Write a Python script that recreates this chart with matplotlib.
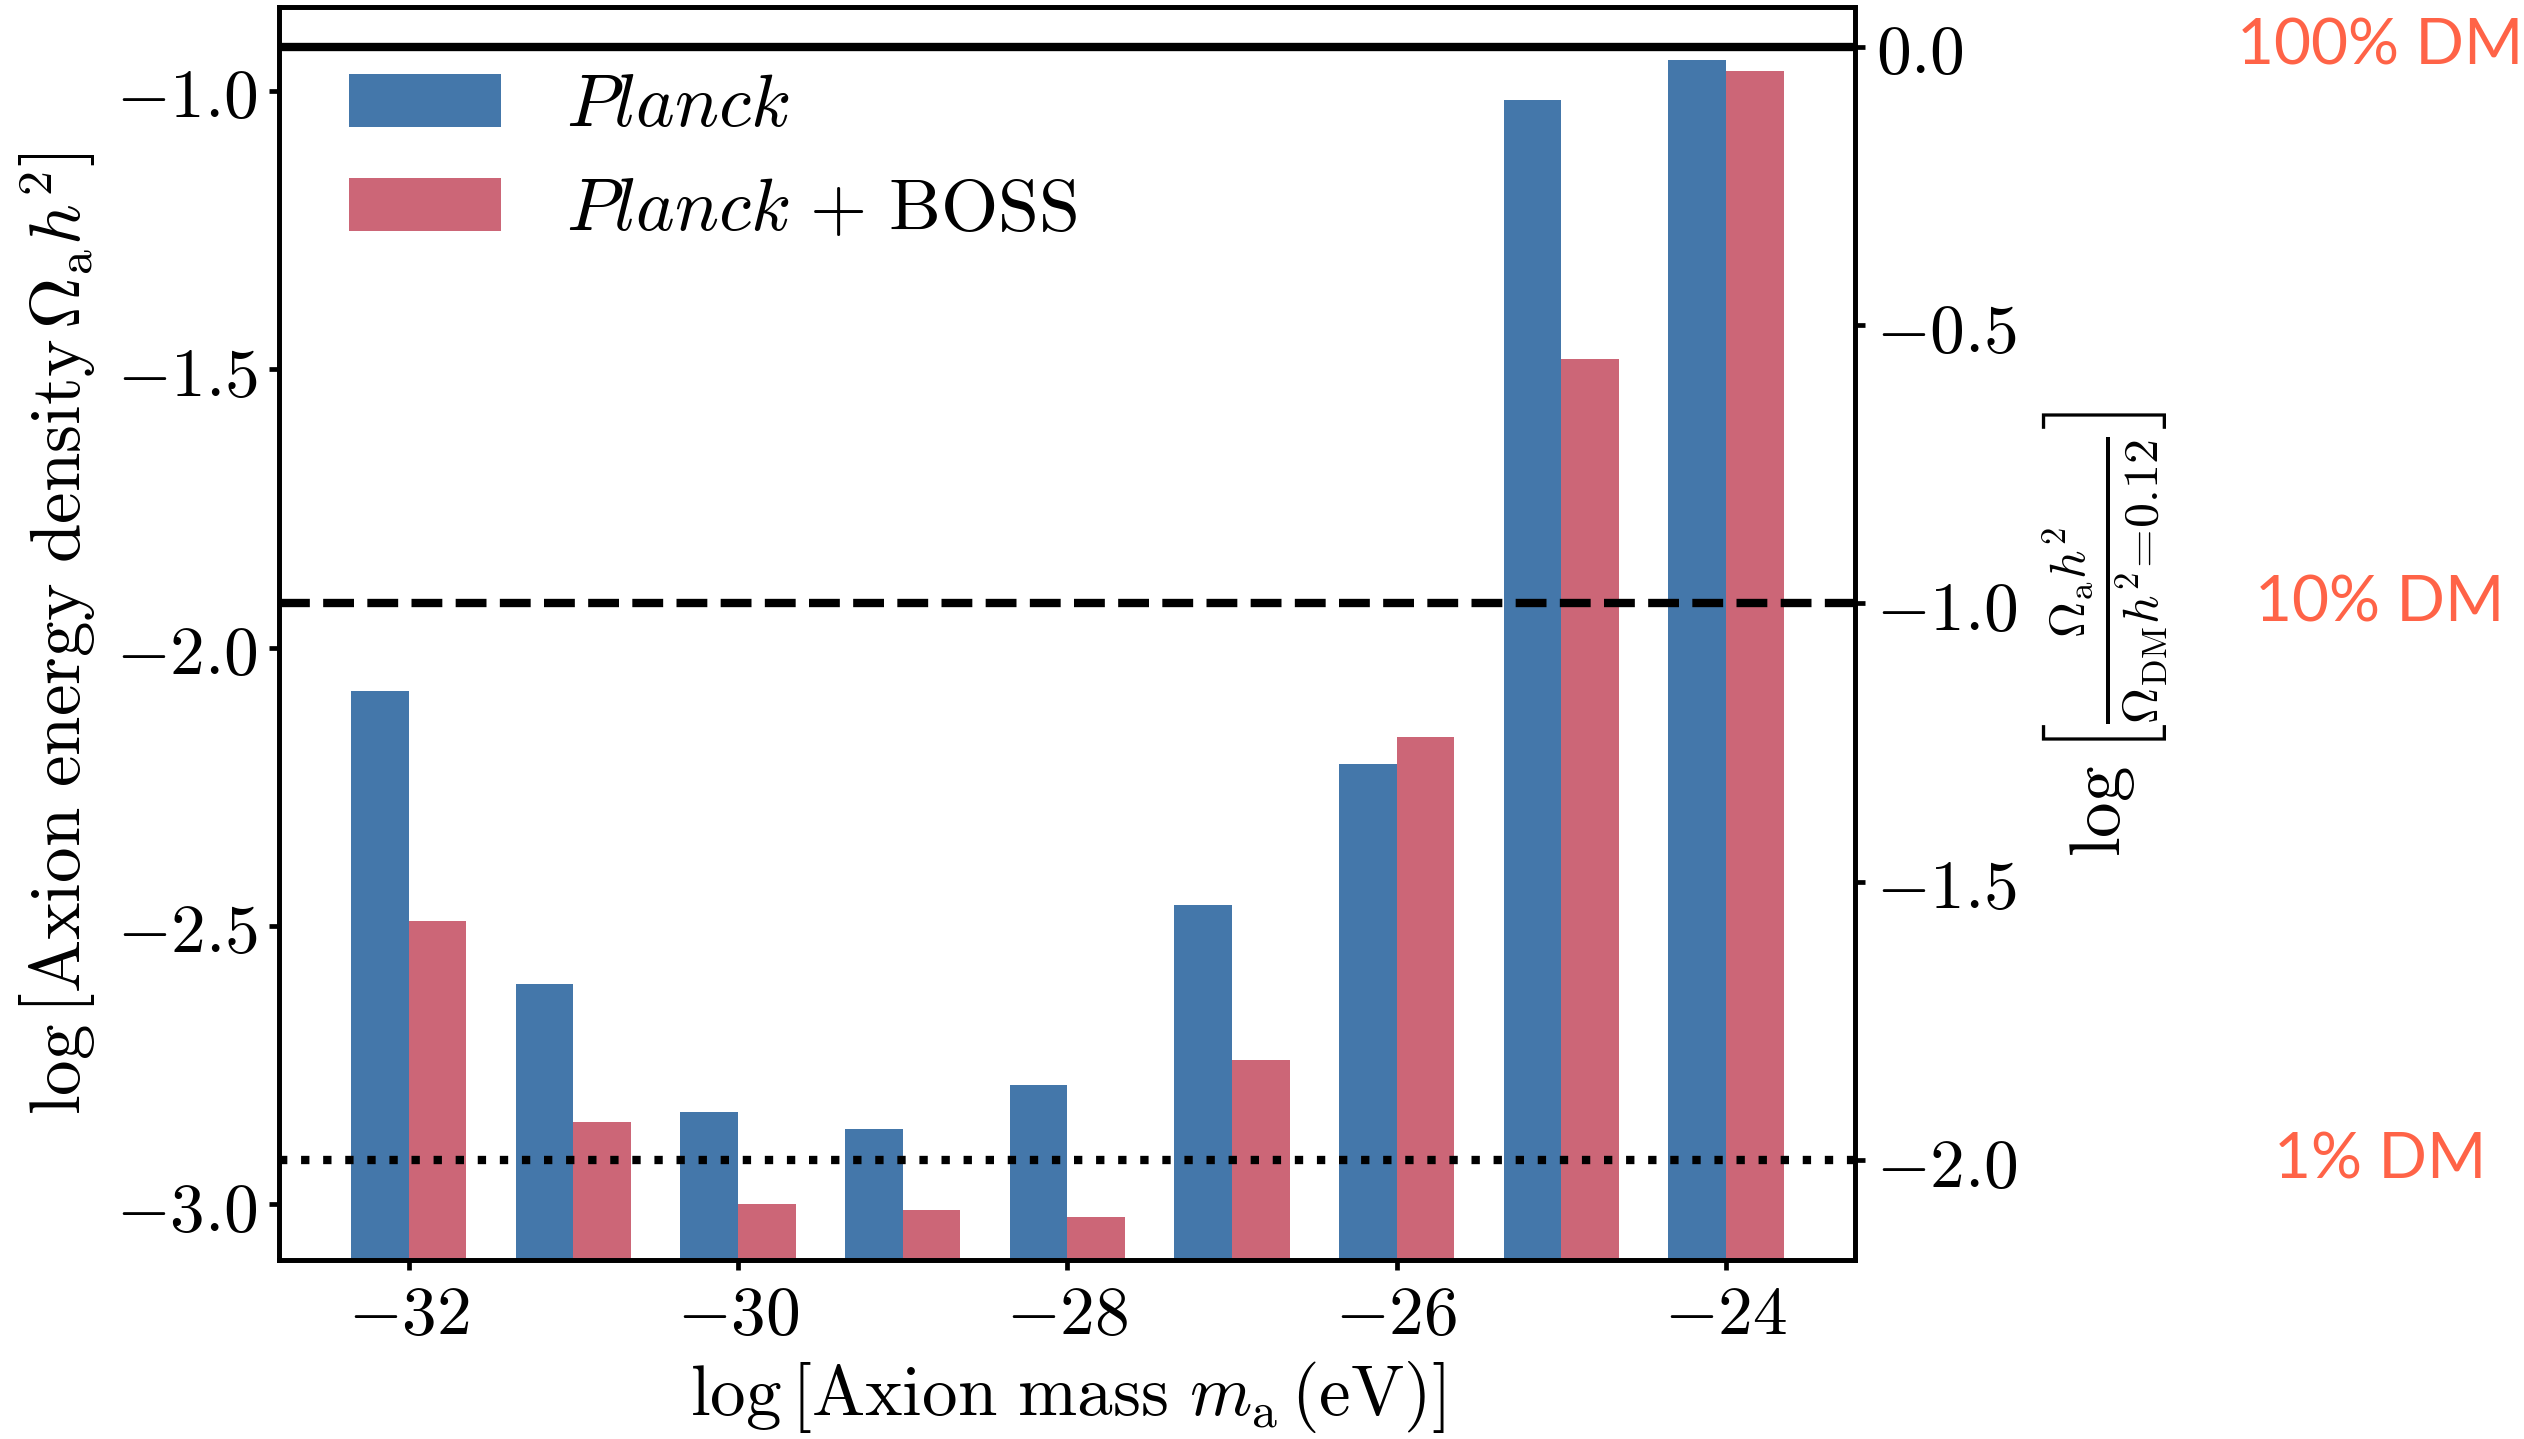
import numpy as np
import matplotlib
matplotlib.use("Agg")
import matplotlib.pyplot as plt
from matplotlib.ticker import MultipleLocator, FuncFormatter
import matplotlib.transforms as mtransforms

# ---- data ----
log_mass = [-32, -31, -30, -29, -28, -27, -26, -25, -24]
planck = [-2.079, -2.604, -2.835, -2.864, -2.786, -2.463, -2.209, -1.017, -0.945]
planck_boss = [-2.492, -2.852, -3.000, -3.011, -3.023, -2.740, -2.160, -1.482, -0.965]
series_labels = [r'$\mathit{Planck}$', r'$\mathit{Planck}\ {+}\ \mathrm{BOSS}$']
omega_dm_h2 = 0.12
dm_levels = [0.0, -1.0, -2.0]          # log10 of fraction of DM
dm_labels = ['100% DM', '10% DM', '1% DM']

# ---- style ----
plt.rcParams['mathtext.fontset'] = 'cm'
plt.rcParams['font.family'] = ['DejaVu Sans']

blue = '#4477AA'
red = '#CC6677'
fs_tick = 25
fs_label = 25.6
fs_leg = 26.5
spine_lw = 1.7

fig = plt.figure(figsize=(12.62, 7.195), dpi=200)
ax = fig.add_axes([0.1107, 0.1244, 0.6243, 0.8706])

width = 0.35
x = np.array(log_mass, dtype=float)
base = -4.0
ax.bar(x - width / 2, np.array(planck) - base, width, bottom=base, color=blue,
       label=series_labels[0])
ax.bar(x + width / 2, np.array(planck_boss) - base, width, bottom=base, color=red,
       label=series_labels[1])

ylim = (-3.1, -0.85)
ax.set_ylim(*ylim)
ax.xaxis.set_major_locator(MultipleLocator(2))
ax.yaxis.set_major_locator(MultipleLocator(0.5))
ax.xaxis.set_major_formatter(FuncFormatter(lambda v, p: r'$%d$' % int(round(v))))
ax.yaxis.set_major_formatter(FuncFormatter(lambda v, p: r'$%.1f$' % v))

ax.set_xlabel(r'$\log\left[\mathrm{Axion\ mass}\ m_{\mathrm{a}}\,(\mathrm{eV})\right]$',
              fontsize=fs_label)
ax.set_ylabel(r'$\log\left[\mathrm{Axion\ energy\ density}\,\Omega_{\mathrm{a}}h^2\right]$',
              fontsize=fs_label, labelpad=7)

for sp in ax.spines.values():
    sp.set_linewidth(spine_lw)
ax.tick_params(direction='out', length=3.6, width=spine_lw, labelsize=fs_tick, pad=4)

ax.legend(loc='upper left', bbox_to_anchor=(0.0, 1.006), frameon=False,
          fontsize=fs_leg, handlelength=2.07, handleheight=0.73,
          handletextpad=0.88, labelspacing=0.42, borderaxespad=0.54)

# twin axis: fraction of dark matter
offset = -np.log10(omega_dm_h2)
ax2 = ax.twinx()
ax2.set_ylim(ylim[0] + offset, ylim[1] + offset)
ax2.yaxis.set_major_locator(MultipleLocator(0.5))
ax2.yaxis.set_major_formatter(FuncFormatter(lambda v, p: r'$%.1f$' % (0.0 if abs(v) < 1e-9 else v)))
ax2.tick_params(direction='out', length=3.6, width=spine_lw, labelsize=fs_tick, pad=4)
for sp in ax2.spines.values():
    sp.set_linewidth(spine_lw)
ax2.set_ylabel(r'$\log\left[\frac{\Omega_{\mathrm{a}}h^2}{\Omega_{\mathrm{DM}}h^2\!=\!0.12}\right]$',
               fontsize=fs_label, labelpad=8)

styles = ['-', '--', ':']
for lvl, ls in zip(dm_levels, styles):
    ax2.axhline(lvl, color='black', lw=3.0, ls=ls)

trans = mtransforms.blended_transform_factory(ax2.transAxes, ax2.transData)
for lvl, lab in zip(dm_levels, dm_labels):
    ax2.text(1.333, lvl, lab, transform=trans, ha='center', va='center',
             color='tomato', fontsize=23, family='Lato')

fig.savefig('out.png', dpi=200)
